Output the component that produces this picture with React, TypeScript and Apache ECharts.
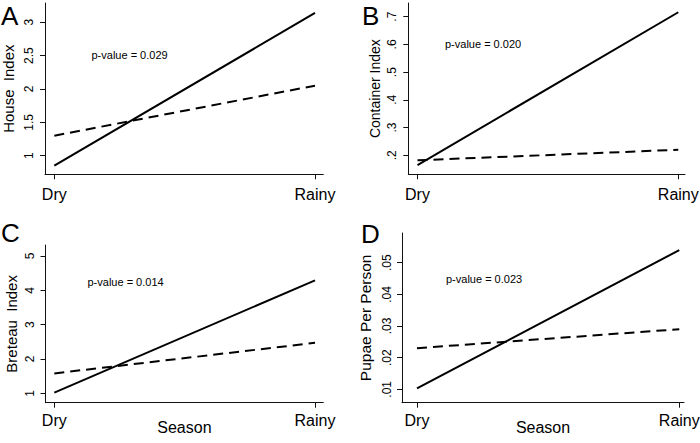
import React, { useEffect, useRef } from "react";
import * as echarts from "echarts";

const seasons = ["Dry", "Rainy"];

const houseSolid = [0.85, 3.14];
const houseDashed = [1.3, 2.05];
const houseTicks = [1, 1.5, 2, 2.5, 3];

const containerSolid = [0.165, 0.716];
const containerDashed = [0.182, 0.22];
const containerTicks = [0.2, 0.3, 0.4, 0.5, 0.6, 0.7];

const breteauSolid = [1.02, 4.29];
const breteauDashed = [1.58, 2.47];
const breteauTicks = [1, 2, 3, 4, 5];

const pupaeSolid = [0.0103, 0.054];
const pupaeDashed = [0.023, 0.029];
const pupaeTicks = [0.01, 0.02, 0.03, 0.04, 0.05];

const panelLetters = ["A", "B", "C", "D"];
const yTitles = ["House  Index", "Container Index", "Breteau  Index", "Pupae Per Person"];
const pValues = ["p-value = 0.029", "p-value = 0.020", "p-value = 0.014", "p-value = 0.023"];

const FONT = "'Liberation Sans', Arial, Helvetica, sans-serif";

const panels = [
  {
    grid: { left: 45, top: 3, width: 278.3, height: 171.3 },
    x: [-0.0357, 1.0318], y: [0.721, 3.289],
    solid: houseSolid, dashed: houseDashed, ticks: houseTicks,
    nameGap: 29, nameSize: 15, labelMargin: 10, xMargin: 12, season: false,
    letter: { x: 1, y: 16 }, p: { x: 91.5, y: 55 },
  },
  {
    grid: { left: 408.3, top: 3, width: 276.7, height: 171.3 },
    x: [-0.0353, 1.0257], y: [0.1315, 0.7494],
    solid: containerSolid, dashed: containerDashed, ticks: containerTicks,
    nameGap: 26, nameSize: 14, labelMargin: 10, xMargin: 12, season: false,
    letter: { x: 362, y: 16 }, p: { x: 445, y: 43.5 },
  },
  {
    grid: { left: 45.5, top: 245, width: 277.8, height: 157.7 },
    x: [-0.0338, 1.0318], y: [0.726, 5.32],
    solid: breteauSolid, dashed: breteauDashed, ticks: breteauTicks,
    nameGap: 26.5, nameSize: 15, labelMargin: 10, xMargin: 10, season: true,
    letter: { x: 1, y: 233 }, p: { x: 87.5, y: 282 },
  },
  {
    grid: { left: 402, top: 233, width: 282, height: 169.7 },
    x: [-0.0571, 1.018], y: [0.00577, 0.0594],
    solid: pupaeSolid, dashed: pupaeDashed, ticks: pupaeTicks,
    nameGap: 29, nameSize: 15.5, labelMargin: 9, xMargin: 10, season: true,
    letter: { x: 361, y: 234 }, p: { x: 446, y: 278.5 },
  },
];

const fmtY = (v: number) => {
  const s = String(Math.round(v * 1000) / 1000);
  return s.startsWith("0.") ? s.slice(1) : s;
};

export default function App() {
  const ref = useRef<HTMLDivElement>(null);
  useEffect(() => {
    if (!ref.current) return;
    const chart = echarts.init(ref.current, null, { renderer: "svg" });
    const axisLine = { show: true, onZero: false, lineStyle: { color: "#111", width: 1 } };
    const option: any = {
      animation: false,
      backgroundColor: "#fff",
      grid: panels.map((p) => ({ ...p.grid, containLabel: false, outerBoundsMode: "none" })),
      xAxis: panels.map((p, i) => ({
        type: "value",
        gridIndex: i,
        min: p.x[0],
        max: p.x[1],
        axisLine,
        splitLine: { show: false },
        axisTick: { show: true, length: 5, customValues: [0, 1], lineStyle: { color: "#111" } },
        axisLabel: {
          customValues: [0, 1],
          formatter: (v: number) => seasons[Math.round(v)],
          fontSize: 16,
          fontFamily: FONT,
          color: "#000",
          margin: p.xMargin,
        },
        name: p.season ? "Season" : "",
        nameLocation: "middle",
        nameGap: 17,
        nameMoveOverlap: false,
        nameTextStyle: { fontSize: 16, fontFamily: FONT, color: "#000" },
      })),
      yAxis: panels.map((p, i) => ({
        type: "value",
        gridIndex: i,
        min: p.y[0],
        max: p.y[1],
        axisLine,
        splitLine: { show: false },
        axisTick: { show: true, length: 5, customValues: p.ticks, lineStyle: { color: "#111" } },
        axisLabel: {
          customValues: p.ticks,
          formatter: fmtY,
          rotate: 90,
          fontSize: 12,
          fontFamily: FONT,
          color: "#000",
          margin: p.labelMargin,
        },
        name: yTitles[i],
        nameLocation: "middle",
        nameGap: p.nameGap,
        nameMoveOverlap: false,
        nameTextStyle: { fontSize: p.nameSize, fontFamily: FONT, color: "#000" },
      })),
      series: panels.flatMap((p, i) => [
        {
          type: "line",
          xAxisIndex: i,
          yAxisIndex: i,
          data: seasons.map((_, k) => [k, p.solid[k]]),
          symbol: "none",
          lineStyle: { color: "#000", width: 2, type: "solid" },
          silent: true,
        },
        {
          type: "line",
          xAxisIndex: i,
          yAxisIndex: i,
          data: seasons.map((_, k) => [k, p.dashed[k]]),
          symbol: "none",
          lineStyle: { color: "#000", width: 2, type: [10, 6] },
          silent: true,
        },
      ]),
      graphic: panels.flatMap((p, i) => [
        {
          type: "text",
          x: p.letter.x,
          y: p.letter.y,
          style: {
            text: panelLetters[i],
            fontSize: 26,
            fontFamily: FONT,
            fill: "#000",
            align: "left",
            verticalAlign: "middle",
          },
        },
        {
          type: "text",
          x: p.p.x,
          y: p.p.y,
          style: {
            text: pValues[i],
            fontSize: 11,
            fontFamily: FONT,
            fill: "#000",
            align: "left",
            verticalAlign: "middle",
          },
        },
      ]),
    };
    chart.setOption(option);
    return () => chart.dispose();
  }, []);
  return (
    <div
      ref={ref}
      style={{ position: "absolute", left: 0, top: 0, width: 700, height: 443, background: "#fff" }}
    />
  );
}
